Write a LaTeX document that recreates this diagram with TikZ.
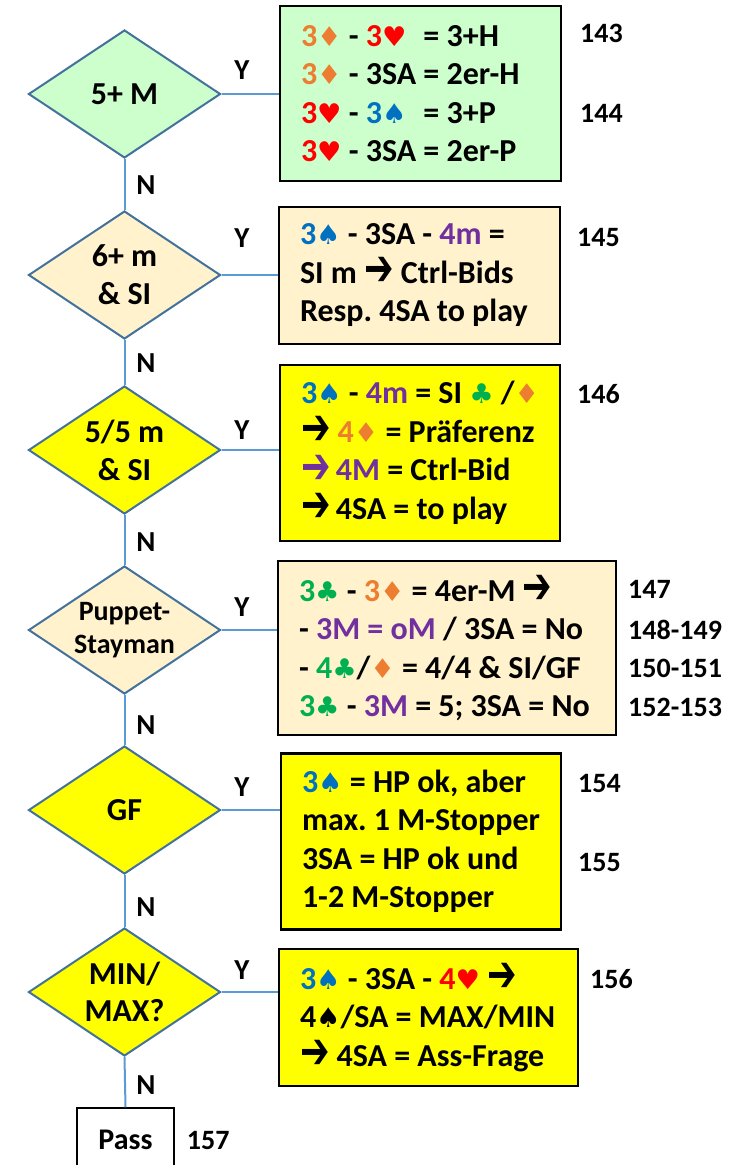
\documentclass[tikz,border=0pt]{standalone}
\usepackage{fontspec}
\usepackage{graphicx}
\setmainfont{Carlito}
\newfontfamily\suitfont{DejaVu Sans}[Scale=0.85]
\newfontfamily\arrowfont{DejaVu Sans}
\usetikzlibrary{shapes.geometric, positioning}

\definecolor{lgreen}{HTML}{CCFFCC}
\definecolor{cream}{HTML}{FFF2CC}
\definecolor{yell}{HTML}{FFFF00}
\definecolor{dblue}{HTML}{41719C}
\definecolor{lblue}{HTML}{5B9BD5}
\definecolor{orng}{HTML}{ED7D31}
\definecolor{sblue}{HTML}{0070C0}
\definecolor{purp}{HTML}{7030A0}
\definecolor{cgrn}{HTML}{00B050}

% card suits and the bold arrow
\newcommand{\karo}{{\suitfont ♦}}
\newcommand{\herz}{{\suitfont ♥}}
\newcommand{\pik}{{\suitfont ♠}}
\newcommand{\treff}{{\suitfont ♣}}
\newcommand{\pfeil}{\raisebox{-0.07em}{\scalebox{1.1}[1.6]{\arrowfont ➔}}}

\tikzset{
	decision/.style={draw=dblue, line width=2pt, diamond, aspect=1.5, inner sep=0pt, minimum width=192pt, minimum height=128pt, align=flush center, font=\bfseries\fontsize{32}{38}\selectfont},
	answer/.style={draw=black, line width=2.5pt, rectangle, inner xsep=21pt, align=flush left, font=\bfseries\fontsize{32}{38.5}\selectfont\frenchspacing},
	endbox/.style={draw=black, line width=1.5pt, rectangle, minimum width=97pt, minimum height=64pt, font=\bfseries\fontsize{30}{32}\selectfont},
	% Y/N marks and page numbers
	lbl/.style={inner sep=0pt, font=\bfseries\fontsize{29}{30}\selectfont},
	num/.style={inner sep=0pt, anchor=west, font=\bfseries\fontsize{28}{30}\selectfont},
	conn/.style={draw=lblue, line width=2pt},
}

\begin{document}
\begin{tikzpicture}[x=1pt, y=-1pt]
	\useasboundingbox (0,0) rectangle (730,1165);
	
	\node (q1) [decision, fill=lgreen] at (124.5,94) {5+ M};
	\node (q2) [decision, fill=cream] at (124.5,275) {6+ m\\ \& SI};
	\node (q3) [decision, fill=yell] at (124.5,450) {5/5 m\\ \& SI};
	\node (q4) [decision, fill=cream, font=\bfseries\fontsize{28}{33}\selectfont] at (124.5,630) {Puppet-\\ Stayman};
	\node (q5) [decision, fill=yell] at (124.5,810) {GF};
	\node (q6) [decision, fill=yell, font=\bfseries\fontsize{32}{37}\selectfont] at (124.5,992) {MIN/\\ MAX?};
	\node (pass) [endbox] at (125.5,1140) {Pass};
	
	\node (a1) [answer, fill=lgreen, text width=239pt, minimum height=175pt] at (420.5,93.5)
		{\textcolor{orng}{3\karo} - \rlap{\textcolor{red}{3\herz}}\phantom{3SA} = 3+H\\
		 \textcolor{orng}{3\karo} - 3SA = 2er-H\\
		 \textcolor{red}{3\herz} - \rlap{\textcolor{sblue}{3\pik}}\phantom{3SA} = 3+P\\
		 \textcolor{red}{3\herz} - 3SA = 2er-P};
	\node (a2) [answer, fill=cream, text width=239pt, minimum height=137pt] at (419.5,275.5)
		{\textcolor{sblue}{3\pik} - 3SA - \textcolor{purp}{4m} =\\
		 SI m \pfeil{} Ctrl-Bids\\
		 Resp. 4SA to play};
	\node (a3) [answer, fill=yell, text width=238pt, minimum height=176pt] at (420,453)
		{\textcolor{sblue}{3\pik} - \textcolor{purp}{4m} = SI \textcolor{cgrn}{\treff} /\textcolor{orng}{\karo}\\
		 \pfeil{} \textcolor{orng}{4\karo} = Präferenz\\
		 \textcolor{purp}{\pfeil\,4M} = Ctrl-Bid\\
		 \pfeil\,4SA = to play};
	\node (a4) [answer, fill=cream, text width=296pt, minimum height=174pt] at (447,648)
		{\textcolor{cgrn}{3\treff} - \textcolor{orng}{3\karo} = 4er-M \pfeil\\
		 - \textcolor{purp}{3M = oM} / 3SA = No\\
		 - \textcolor{cgrn}{4\treff}/\textcolor{orng}{\karo} = 4/4 \& SI/GF\\
		 \textcolor{cgrn}{3\treff} - \textcolor{purp}{3M} = 5; 3SA = No};
	\node (a5) [answer, fill=yell, text width=238pt, minimum height=176pt] at (421,841.5)
		{\textcolor{sblue}{3\pik} = HP ok, aber\\
		 max. 1 M-Stopper\\
		 3SA = HP ok und\\
		 1-2 M-Stopper};
	\node (a6) [answer, fill=yell, text width=257pt, minimum height=137pt] at (428.5,1017.5)
		{\textcolor{sblue}{3\pik} - 3SA - \textcolor{red}{4\herz} \pfeil\\
		 4\pik/SA = MAX/MIN\\
		 \pfeil{} 4SA = Ass-Frage};
	
	% page numbers
	\node [num] at (580,33) {143};
	\node [num] at (580,113) {144};
	\node [num] at (577,237) {145};
	\node [num] at (577,394) {146};
	\node [num] at (628,589) {147};
	\node [num] at (628,630) {148-149};
	\node [num] at (628,668) {150-151};
	\node [num] at (628,707) {152-153};
	\node [num] at (578,783) {154};
	\node [num] at (578,862) {155};
	\node [num] at (590,979) {156};
	\node [num, right=12pt of pass] {157};
	
	\foreach \y in {70, 238, 430, 607, 787, 970}
		\node [lbl] at (242,\y) {Y};
	\foreach \y in {185, 363, 542, 725, 907, 1085}
		\node [lbl] at (146,\y) {N};
	
	\begin{scope}[conn]
		\draw (q1.south) -- (q2.north);
		\draw (q2.south) -- (q3.north);
		\draw (q3.south) -- (q4.north);
		\draw (q4.south) -- (q5.north);
		\draw (q5.south) -- (q6.north);
		\draw (q6.south) -- (pass.north);
		\draw (q1.east) -- (q1.east -| a1.west);
		\draw (q2.east) -- (q2.east -| a2.west);
		\draw (q3.east) -- (q3.east -| a3.west);
		\draw (q4.east) -- (q4.east -| a4.west);
		\draw (q5.east) -- (q5.east -| a5.west);
		\draw (q6.east) -- (q6.east -| a6.west);
	\end{scope}
\end{tikzpicture}
\end{document}
